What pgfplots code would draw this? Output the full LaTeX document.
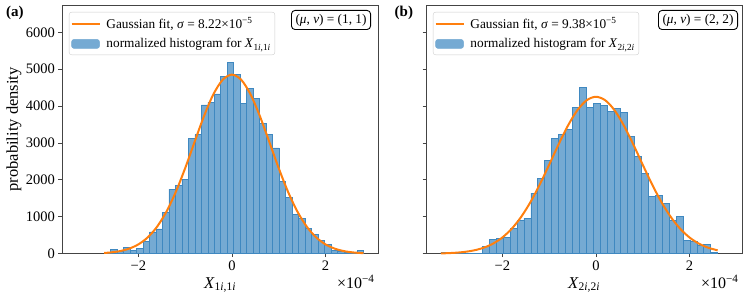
\documentclass[border=0pt]{standalone}
\usepackage{fontspec}
\setmainfont{Liberation Serif}
\usepackage{pgfplots}
\usepackage{pgfplotstable}
\pgfplotsset{compat=1.18}
\definecolor{taborange}{HTML}{FF7F0E}
\definecolor{barfill}{HTML}{75AAD3}
\definecolor{baredge}{HTML}{3F88C0}
\definecolor{spine}{HTML}{444444}

\pgfplotstableread{
x y
-2.7300 30
-2.5915 110
-2.4530 60
-2.3145 160
-2.1760 100
-2.0375 150
-1.8990 325
-1.7605 590
-1.6220 670
-1.4835 1130
-1.3450 1750
-1.2065 1850
-1.0680 2020
-0.9295 3130
-0.7910 3230
-0.6525 4030
-0.5140 4110
-0.3755 4330
-0.2370 4800
-0.0985 5180
0.0400 4860
0.1785 4080
0.3170 4480
0.4555 4200
0.5940 3540
0.7325 3225
0.8710 2865
1.0095 1970
1.1480 1535
1.2865 1075
1.4250 958
1.5635 696
1.7020 533
1.8405 370
1.9790 244
2.1175 81
2.2560 72
2.3945 45
2.5330 27
2.6715 90
2.8100 0
}\histA

\pgfplotstableread{
x y
-3.3100 40
-3.1623 40
-3.0145 0
-2.8668 0
-2.7190 0
-2.5713 0
-2.4235 205
-2.2758 380
-2.1280 405
-1.9803 443
-1.8325 696
-1.6848 912
-1.5370 967
-1.3893 1644
-1.2415 2051
-1.0938 2529
-0.9460 3126
-0.7983 3234
-0.6505 3378
-0.5028 3957
-0.3550 4517
-0.2073 3957
-0.0595 4065
0.0883 4020
0.2360 3866
0.3838 3930
0.5315 3830
0.6793 3189
0.8270 2647
0.9748 2177
1.1225 1554
1.2703 1572
1.4180 1364
1.5658 912
1.7135 1012
1.8613 370
2.0090 334
2.1568 226
2.3045 253
2.4523 40
2.6000 0
}\histB

\pgfplotstableread{
x y
-2.73 19.5
-2.6 32.6
-2.4 68.4
-2.2 135
-2.0 251.5
-1.8 441
-1.6 730
-1.4 1138
-1.2 1672
-1.0 2315
-0.8 3022
-0.6 3718
-0.4 4311
-0.2 4711
0.0 4853
0.2 4711
0.4 4311
0.6 3718
0.8 3022
1.0 2315
1.2 1672
1.4 1138
1.6 730
1.8 441
2.0 251.5
2.2 135
2.4 68.4
2.6 32.6
2.81 14.1
}\fitA

\pgfplotstableread{
x y
-3.31 8.4
-3.2 12.6
-3.0 25.6
-2.8 49.4
-2.6 91.3
-2.4 161
-2.2 272
-2.0 438
-1.8 675
-1.6 993
-1.4 1396
-1.2 1876
-1.0 2409
-0.8 2956
-0.6 3466
-0.4 3883
-0.2 4157
0.0 4253
0.2 4157
0.4 3883
0.6 3466
0.8 2956
1.0 2409
1.2 1876
1.4 1396
1.6 993
1.8 675
2.0 438
2.2 272
2.4 161
2.6 91.3
}\fitB

\pgfplotsset{
  panel/.style={
    scale only axis, width=316pt, height=248.7pt,
    anchor=south west,
    xmin=-3.63, xmax=3.12, ymin=0, ymax=6740,
    xtick={-2,0,2}, xticklabels={−2,0,2},
    ytick={0,1000,2000,3000,4000,5000,6000},
    tick align=outside, tick pos=left,
    major tick length=3.5pt,
    axis line style={spine, line width=0.8pt},
    every tick/.style={spine, line width=0.8pt},
    tick label style={font=\fontsize{14.5}{16}\selectfont},
    /pgf/number format/assume math mode=true,
    clip=false,
    legend cell align=left,
    legend style={
      at={(rel axis cs:0.022,0.972)}, anchor=north west,
      draw=black!20, rounded corners=2.5pt, fill=white,
      font=\fontsize{13.3}{15}\selectfont,
      inner xsep=1.5pt, inner ysep=3pt, row sep=3pt,
      nodes={inner sep=2.5pt},
      /tikz/every odd column/.append style={column sep=3.5pt},
    },
  },
  histo/.style={ybar interval, fill=barfill, draw=baredge, line width=0.7pt, forget plot},
  fit/.style={taborange, line width=2pt, smooth, tension=0.5, forget plot},
}

\begin{document}
\begin{tikzpicture}
\useasboundingbox (0,0) rectangle (748pt,299pt);

% ---------- panel (a) ----------
\begin{axis}[panel, at={(62pt,45.3pt)},
  xlabel={\textit{X}\textsubscript{1\textit{i},1\textit{i}}},
  xlabel style={at={(axis description cs:0.5,-0.139)}, anchor=base, font=\fontsize{16.5}{18}\selectfont},
  ylabel={probability density},
  ylabel style={at={(axis description cs:-0.152,0.5)}, anchor=center, font=\fontsize{16.5}{18}\selectfont},
  yticklabels={0,1000,2000,3000,4000,5000,6000},
]
\addplot[histo] table[x=x,y=y] {\histA};
\addplot[fit] table[x=x,y=y] {\fitA};
\addlegendimage{legend image code/.code={\draw[taborange, line width=1.8pt] (0pt,0pt) -- (28pt,0pt);}}
\addlegendentry{Gaussian fit, \textit{σ} = 8.22×10\textsuperscript{−5}}
\addlegendimage{legend image code/.code={\fill[barfill] (0pt,-4.5pt) rectangle (28pt,4.5pt);}}
\addlegendentry{normalized histogram for \textit{X}\textsubscript{1\textit{i},1\textit{i}}}
\node[anchor=north east, draw=black, line width=0.9pt, rounded corners=3.5pt, inner xsep=4pt, inner ysep=3.5pt,
  font=\fontsize{13.3}{15}\selectfont] at ([xshift=-7pt,yshift=-5pt]rel axis cs:1,1)
  {(\textit{μ}, \textit{ν}) = (1, 1)};
\node[anchor=base east, font=\fontsize{16}{18}\selectfont] at ([yshift=-34.6pt]rel axis cs:1,0) {×10\textsuperscript{−4}};
\node[anchor=center, font=\fontsize{15}{17}\selectfont\bfseries] at (rel axis cs:-0.149,0.968) {(a)};
\end{axis}

% ---------- panel (b) ----------
\begin{axis}[panel, at={(426pt,45.3pt)},
  xlabel={\textit{X}\textsubscript{2\textit{i},2\textit{i}}},
  xlabel style={at={(axis description cs:0.5,-0.139)}, anchor=base, font=\fontsize{16.5}{18}\selectfont},
  yticklabels={},
]
\addplot[histo] table[x=x,y=y] {\histB};
\addplot[fit] table[x=x,y=y] {\fitB};
\addlegendimage{legend image code/.code={\draw[taborange, line width=1.8pt] (0pt,0pt) -- (28pt,0pt);}}
\addlegendentry{Gaussian fit, \textit{σ} = 9.38×10\textsuperscript{−5}}
\addlegendimage{legend image code/.code={\fill[barfill] (0pt,-4.5pt) rectangle (28pt,4.5pt);}}
\addlegendentry{normalized histogram for \textit{X}\textsubscript{2\textit{i},2\textit{i}}}
\node[anchor=north east, draw=black, line width=0.9pt, rounded corners=3.5pt, inner xsep=4pt, inner ysep=3.5pt,
  font=\fontsize{13.3}{15}\selectfont] at ([xshift=-4pt,yshift=-5pt]rel axis cs:1,1)
  {(\textit{μ}, \textit{ν}) = (2, 2)};
\node[anchor=base east, font=\fontsize{16}{18}\selectfont] at ([yshift=-34.6pt]rel axis cs:1,0) {×10\textsuperscript{−4}};
\node[anchor=center, font=\fontsize{15}{17}\selectfont\bfseries] at (rel axis cs:-0.070,0.968) {(b)};
\end{axis}
\end{tikzpicture}
\end{document}
